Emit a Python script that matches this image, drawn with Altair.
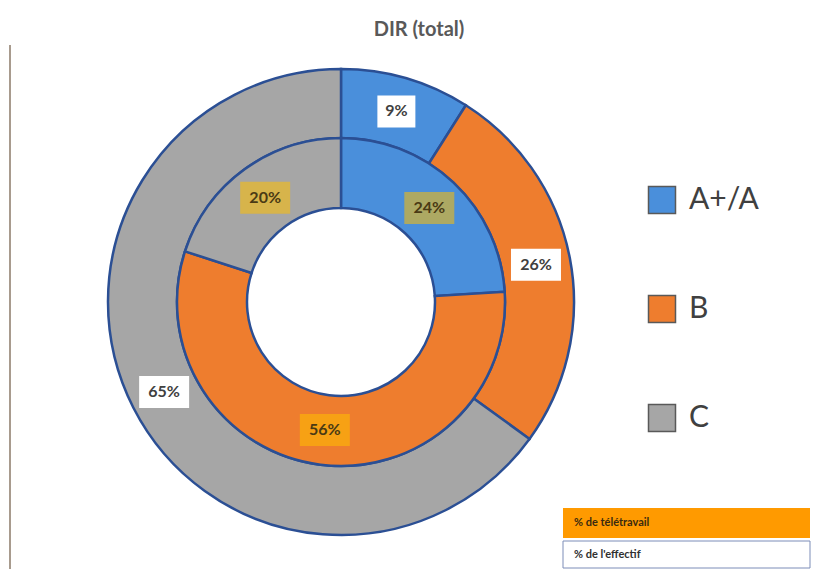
import altair as alt
import pandas as pd

# ---- data -------------------------------------------------------------
categories = ["A+/A", "B", "C"]
effectif = [9, 26, 65]          # outer ring : % de l'effectif
teletravail = [24, 56, 20]      # inner ring : % de télétravail
colors = ["#4A8FDB", "#EE7D2E", "#A6A6A6"]
title_text = "DIR (total)"
box_labels = ["% de télétravail", "% de l'effectif"]

rows = []
for i, c in enumerate(categories):
    rows.append({"ring": "effectif", "cat": c, "ord": i, "value": effectif[i]})
for i, c in enumerate(categories):
    rows.append({"ring": "teletravail", "cat": c, "ord": i, "value": teletravail[i]})
df = pd.DataFrame(rows)

# ---- layout (view coordinates) ---------------------------------------
X0, Y0 = 8, 64                      # page position of the view origin
CX, CY = 341 - X0, 301 - Y0
R_OUT, R_MID, R_IN = 233, 164, 94
STROKE = "#2B4F94"
FONT = "Lato"

base = alt.Chart(df)

color = alt.Color(
    "cat:N",
    scale=alt.Scale(domain=categories, range=colors),
    legend=alt.Legend(
        title=None, orient="none", legendX=647 - X0, legendY=184 - Y0,
        symbolType="square", symbolSize=729, symbolStrokeColor="#595959",
        symbolStrokeWidth=1.5, symbolOpacity=1,
        labelFontSize=30, labelFont=FONT, labelColor="#404040",
        labelOffset=12, rowPadding=75, padding=0,
    ),
)

outer = base.transform_filter("datum.ring == 'effectif'").mark_arc(
    radius=R_OUT, radius2=R_MID, stroke=STROKE, strokeWidth=2.5
).encode(
    theta=alt.Theta("value:Q", stack=True),
    color=color,
    order=alt.Order("ord:Q"),
    x=alt.value(CX), y=alt.value(CY),
)

inner = base.transform_filter("datum.ring == 'teletravail'").mark_arc(
    radius=R_MID, radius2=R_IN, stroke=STROKE, strokeWidth=2.5
).encode(
    theta=alt.Theta("value:Q", stack=True),
    color=alt.Color("cat:N", scale=alt.Scale(domain=categories, range=colors), legend=None),
    order=alt.Order("ord:Q"),
    x=alt.value(CX), y=alt.value(CY),
)

lab = base.transform_joinaggregate(
    total="sum(value)", groupby=["ring"]
).transform_window(
    cum="sum(value)", sort=[alt.SortField("ord")], groupby=["ring"], frame=[None, 0]
).transform_calculate(
    mid="(datum.cum - datum.value / 2) / datum.total * 2 * PI",
    r=f"datum.ring == 'effectif' ? {(R_OUT + R_MID) / 2} : {(R_MID + R_IN) / 2}",
    px=f"{CX} + datum.r * sin(datum.mid)",
    py=f"{CY} - datum.r * cos(datum.mid)",
    label="datum.value + '%'",
    w="length(datum.label) * 12 + 14",
    bx1="datum.px - datum.w / 2",
    bx2="datum.px + datum.w / 2",
    by1="datum.py - 16",
    by2="datum.py + 16",
)

box_enc = dict(
    x=alt.X("bx1:Q", scale=None, axis=None),
    x2="bx2:Q",
    y=alt.Y("by1:Q", scale=None, axis=None),
    y2="by2:Q",
)
txt_enc = dict(
    x=alt.X("px:Q", scale=None, axis=None),
    y=alt.Y("py:Q", scale=None, axis=None),
    text="label:N",
)

outer_boxes = lab.transform_filter("datum.ring == 'effectif'").mark_rect(
    fill="white", opacity=1
).encode(**box_enc)
inner_boxes = lab.transform_filter("datum.ring == 'teletravail'").mark_rect(
    fill="#FFC000", opacity=0.55
).encode(**box_enc)
outer_txt = lab.transform_filter("datum.ring == 'effectif'").mark_text(
    font=FONT, fontSize=16, fontWeight="bold", color="#404040", baseline="middle"
).encode(**txt_enc)
inner_txt = lab.transform_filter("datum.ring == 'teletravail'").mark_text(
    font=FONT, fontSize=16, fontWeight="bold", color="#4A3A14", baseline="middle"
).encode(**txt_enc)

# ---- bottom-right key boxes --------------------------------------------
kb1 = alt.Chart(alt.Data(values=[{"t": box_labels[0]}]))
kb2 = alt.Chart(alt.Data(values=[{"t": box_labels[1]}]))
key_orange = kb1.mark_rect(fill="#FF9A00").encode(
    x=alt.value(563 - X0), x2=alt.value(810 - X0),
    y=alt.value(507 - Y0), y2=alt.value(537 - Y0),
)
key_orange_t = kb1.mark_text(
    align="left", baseline="middle", font=FONT, fontSize=11, fontWeight="bold", color="#3A2A10"
).encode(x=alt.value(574 - X0), y=alt.value(522 - Y0), text="t:N")
key_white = kb2.mark_rect(fill="white", stroke="#7D8DB8", strokeWidth=1).encode(
    x=alt.value(563 - X0), x2=alt.value(810 - X0),
    y=alt.value(540 - Y0), y2=alt.value(567 - Y0),
)
key_white_t = kb2.mark_text(
    align="left", baseline="middle", font=FONT, fontSize=11, fontWeight="bold", color="#303030"
).encode(x=alt.value(574 - X0), y=alt.value(554 - Y0), text="t:N")

frame_left = kb1.mark_rule(color="#A89B8E", strokeWidth=2).encode(
    x=alt.value(10 - X0), y=alt.value(-20), y2=alt.value(568 - Y0)
)

chart = alt.layer(
    frame_left, outer, inner, outer_boxes, inner_boxes, outer_txt, inner_txt,
    key_orange, key_orange_t, key_white, key_white_t,
).properties(
    width=804, height=561,
    autosize=alt.AutoSizeParams(type="fit", contains="padding"),
    padding={"left": 0, "right": 0, "top": 12, "bottom": 0},
    title=alt.TitleParams(
        title_text, fontSize=20, fontWeight="bold", color="#595959", font=FONT,
        anchor="middle", dx=9, offset=4,
    ),
    background="white",
).configure_view(stroke=None)

chart.save("out.html", embed_options={"renderer": "svg", "actions": False})
